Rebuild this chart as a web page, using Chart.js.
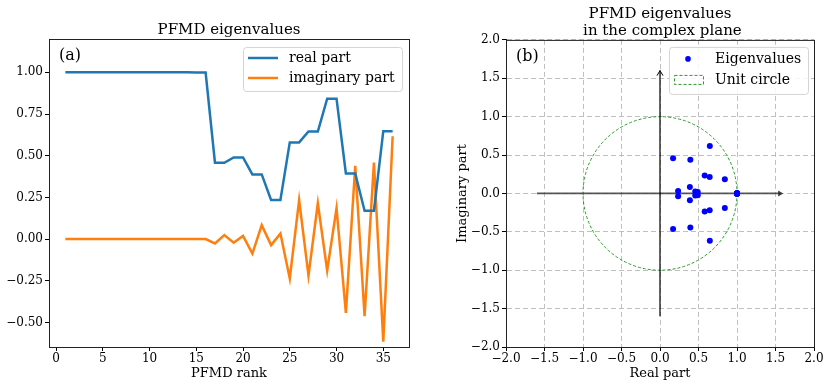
<!DOCTYPE html>
<html>
<head>
<meta charset="utf-8">
<script src="https://cdn.jsdelivr.net/npm/chart.js@4.4.0/dist/chart.umd.min.js"></script>
<style>
  body { margin: 0; background: #fff; }
  #wrap { position: relative; width: 830px; height: 385px; }
  #rankChart { position: absolute; left: 0; top: 0; }
  #planeChart { position: absolute; left: 430px; top: 0; }
</style>
</head>
<body>
<div id="wrap">
  <canvas id="rankChart" width="430" height="385"></canvas>
  <canvas id="planeChart" width="400" height="385"></canvas>
</div>
<script>
// PFMD eigenvalues
const ranks = [1, 2, 3, 4, 5, 6, 7, 8, 9, 10, 11, 12, 13, 14, 15, 16, 17, 18,
               19, 20, 21, 22, 23, 24, 25, 26, 27, 28, 29, 30, 31, 32, 33, 34, 35, 36];
const realPart = [1, 1, 1, 1, 1, 1, 1, 1, 1, 1, 1, 1, 1, 1, 0.999, 0.999,
                  0.458, 0.458, 0.49, 0.49, 0.388, 0.388, 0.235, 0.235,
                  0.58, 0.58, 0.645, 0.645, 0.842, 0.842, 0.394, 0.394,
                  0.17, 0.17, 0.647, 0.647];
const imagPart = [0, 0, 0, 0, 0, 0, 0, 0, 0, 0, 0, 0, 0, 0, 0, 0,
                  -0.026, 0.024, -0.022, 0.019, -0.087, 0.084, -0.036, 0.033,
                  -0.236, 0.234, -0.218, 0.215, -0.188, 0.185, -0.442, 0.44,
                  -0.462, 0.459, -0.615, 0.617];

const rankTicks = [0, 5, 10, 15, 20, 25, 30, 35];
const partTicks = [-0.5, -0.25, 0, 0.25, 0.5, 0.75, 1];
const planeTicks = [-2, -1.5, -1, -0.5, 0, 0.5, 1, 1.5, 2];
const unitRadius = 1;
const arrowReach = 1.6;

const blue = '#1f77b4';
const orange = '#ff7f0e';
const serif = 'DejaVu Serif';

Chart.defaults.font.family = serif;
Chart.defaults.color = '#000';

const minus = (v, d) => (v < 0 ? '\u2212' : '') + Math.abs(v).toFixed(d);

// box round the plot, like the matplotlib spines
const framePlugin = {
    id: 'frame',
    afterDraw(chart) {
        const a = chart.chartArea, ctx = chart.ctx;
        ctx.save();
        ctx.strokeStyle = '#222';
        ctx.lineWidth = 1;
        ctx.strokeRect(a.left + 0.5, a.top + 0.5, a.right - a.left, a.bottom - a.top);
        ctx.restore();
    }
};

function legendBox(ctx, x, y, w, h) {
    ctx.save();
    ctx.fillStyle = 'rgba(255,255,255,0.85)';
    ctx.strokeStyle = '#d4d4d4';
    ctx.lineWidth = 1;
    ctx.beginPath();
    ctx.roundRect(x + 0.5, y + 0.5, w, h, 3);
    ctx.fill();
    ctx.stroke();
    ctx.restore();
}

function panelLetter(ctx, area, text) {
    ctx.save();
    ctx.font = '16px ' + serif;
    ctx.fillStyle = '#000';
    ctx.textBaseline = 'middle';
    ctx.fillText(text, area.left + 10, area.top + 17);
    ctx.restore();
}

const rankLegend = {
    id: 'rankLegend',
    afterDraw(chart) {
        const a = chart.chartArea, ctx = chart.ctx;
        const w = 159, h = 44;
        const x0 = a.right - 7 - w, y0 = a.top + 8;
        legendBox(ctx, x0, y0, w, h);
        panelLetter(ctx, a, '(a)');
        ctx.save();
        ctx.font = '14px ' + serif;
        ctx.textBaseline = 'middle';
        chart.data.datasets.forEach((ds, i) => {
            const y = y0 + 11 + i * 20;
            ctx.strokeStyle = ds.borderColor;
            ctx.lineWidth = 2.5;
            ctx.beginPath();
            ctx.moveTo(x0 + 5, y);
            ctx.lineTo(x0 + 35, y);
            ctx.stroke();
            ctx.fillStyle = '#000';
            ctx.fillText(ds.label, x0 + 46, y);
        });
        ctx.restore();
    }
};

new Chart(document.getElementById('rankChart'), {
    type: 'line',
    data: {
        datasets: [{
            label: 'real part',
            data: ranks.map((r, i) => ({ x: r, y: realPart[i] })),
            borderColor: blue,
            borderWidth: 2.5,
            pointRadius: 0,
            tension: 0
        }, {
            label: 'imaginary part',
            data: ranks.map((r, i) => ({ x: r, y: imagPart[i] })),
            borderColor: orange,
            borderWidth: 2.5,
            pointRadius: 0,
            tension: 0
        }]
    },
    options: {
        responsive: false,
        animation: false,
        layout: { padding: { left: 0, right: 21, top: 0, bottom: 4 } },
        plugins: {
            legend: { display: false },
            tooltip: { enabled: false },
            title: {
                display: true,
                fullSize: false,
                text: 'PFMD eigenvalues',
                font: { size: 15, weight: 'normal' },
                padding: { top: 21, bottom: 0 },
                color: '#000'
            }
        },
        scales: {
            x: {
                type: 'linear',
                min: -0.75,
                max: 37.75,
                afterBuildTicks: s => { s.ticks = rankTicks.map(v => ({ value: v })); },
                afterFit: s => { s.height = 34; },
                ticks: { font: { size: 12 }, padding: 1, maxRotation: 0 },
                grid: { drawOnChartArea: false, drawTicks: true, tickLength: 4, tickColor: '#000' },
                border: { color: '#222' },
                title: { display: true, text: 'PFMD rank', font: { size: 13 }, padding: 0 }
            },
            y: {
                min: -0.647,
                max: 1.2,
                afterBuildTicks: s => { s.ticks = partTicks.map(v => ({ value: v })); },
                afterFit: s => { s.width = 49; },
                ticks: { font: { size: 12 }, padding: 2, callback: v => minus(v, 2) },
                grid: { drawOnChartArea: false, drawTicks: true, tickLength: 4, tickColor: '#000' },
                border: { color: '#222' }
            }
        }
    },
    plugins: [framePlugin, rankLegend]
});

// unit circle and the two axis arrows, placed through the scales
const planeDecor = {
    id: 'planeDecor',
    beforeDatasetsDraw(chart) {
        const xs = chart.scales.x, ys = chart.scales.y, ctx = chart.ctx;
        const cx = xs.getPixelForValue(0), cy = ys.getPixelForValue(0);
        const rx = xs.getPixelForValue(unitRadius) - cx;
        const ry = cy - ys.getPixelForValue(unitRadius);
        ctx.save();
        ctx.strokeStyle = '#2a9a2a';
        ctx.lineWidth = 1;
        ctx.setLineDash([3, 2]);
        ctx.beginPath();
        ctx.ellipse(cx, cy, rx, ry, 0, 0, Math.PI * 2);
        ctx.stroke();
        ctx.setLineDash([]);

        // horizontal arrow
        const x1 = xs.getPixelForValue(-arrowReach), x2 = xs.getPixelForValue(arrowReach);
        ctx.strokeStyle = 'rgba(60,60,60,0.85)';
        ctx.fillStyle = 'rgba(40,40,40,0.9)';
        ctx.lineWidth = 1.8;
        ctx.beginPath();
        ctx.moveTo(x1, cy);
        ctx.lineTo(x2 - 4, cy);
        ctx.stroke();
        ctx.beginPath();
        ctx.moveTo(x2, cy);
        ctx.lineTo(x2 - 5, cy - 3);
        ctx.lineTo(x2 - 5, cy + 3);
        ctx.closePath();
        ctx.fill();

        // vertical arrow
        const y1 = ys.getPixelForValue(-arrowReach), y2 = ys.getPixelForValue(arrowReach);
        ctx.strokeStyle = '#000';
        ctx.lineWidth = 1.2;
        ctx.beginPath();
        ctx.moveTo(cx, y1);
        ctx.lineTo(cx, y2);
        ctx.stroke();
        ctx.lineWidth = 1;
        ctx.beginPath();
        ctx.moveTo(cx - 3, y2 + 5);
        ctx.lineTo(cx, y2);
        ctx.lineTo(cx + 3, y2 + 5);
        ctx.stroke();
        ctx.restore();
    },
    afterDraw(chart) {
        const a = chart.chartArea, ctx = chart.ctx;
        const w = 139, h = 47;
        const x0 = a.right - 6 - w, y0 = a.top + 7;
        legendBox(ctx, x0, y0, w, h);
        panelLetter(ctx, a, '(b)');
        ctx.save();
        ctx.font = '14px ' + serif;
        ctx.textBaseline = 'middle';
        ctx.fillStyle = 'blue';
        ctx.beginPath();
        ctx.arc(x0 + 19, y0 + 12, 2.8, 0, Math.PI * 2);
        ctx.fill();
        ctx.fillStyle = '#000';
        ctx.fillText('Eigenvalues', x0 + 46, y0 + 12);
        ctx.strokeStyle = '#2a9a2a';
        ctx.setLineDash([3, 2]);
        ctx.strokeRect(x0 + 5.5, y0 + 28.5, 29, 9);
        ctx.setLineDash([]);
        ctx.fillText('Unit circle', x0 + 46, y0 + 33);
        ctx.restore();
    }
};

const planeGrid = {
    drawOnChartArea: true,
    drawTicks: true,
    tickLength: 4,
    tickColor: '#000',
    color: 'rgba(176,176,176,0.8)',
    lineWidth: 1
};

new Chart(document.getElementById('planeChart'), {
    type: 'scatter',
    data: {
        datasets: [{
            label: 'Eigenvalues',
            data: realPart.map((re, i) => ({ x: re, y: imagPart[i] })),
            backgroundColor: 'blue',
            borderColor: 'blue',
            pointRadius: 3,
            borderWidth: 0
        }]
    },
    options: {
        responsive: false,
        animation: false,
        layout: { padding: { left: 25, right: 16, top: 0, bottom: 4 } },
        plugins: {
            legend: { display: false },
            tooltip: { enabled: false },
            title: {
                display: true,
                fullSize: false,
                text: ['PFMD eigenvalues', ' in the complex plane'],
                font: { size: 15, weight: 'normal', lineHeight: 1.13 },
                padding: { top: 6, bottom: 0 },
                color: '#000'
            }
        },
        scales: {
            x: {
                type: 'linear',
                min: -2,
                max: 2,
                afterBuildTicks: s => { s.ticks = planeTicks.map(v => ({ value: v })); },
                afterFit: s => { s.height = 34; },
                ticks: { font: { size: 12 }, padding: 1, maxRotation: 0, callback: v => minus(v, 1) },
                grid: planeGrid,
                border: { color: '#222', dash: [5, 3] },
                title: { display: true, text: 'Real part', font: { size: 13 }, padding: 0 }
            },
            y: {
                min: -2,
                max: 2,
                afterBuildTicks: s => { s.ticks = planeTicks.map(v => ({ value: v })); },
                afterFit: s => { s.width = 51; },
                ticks: { font: { size: 12 }, padding: 2, callback: v => minus(v, 1) },
                grid: planeGrid,
                border: { color: '#222', dash: [5, 3] },
                title: { display: true, text: 'Imaginary part', font: { size: 13 }, padding: 0 }
            }
        }
    },
    plugins: [framePlugin, planeDecor]
});
</script>
</body>
</html>
